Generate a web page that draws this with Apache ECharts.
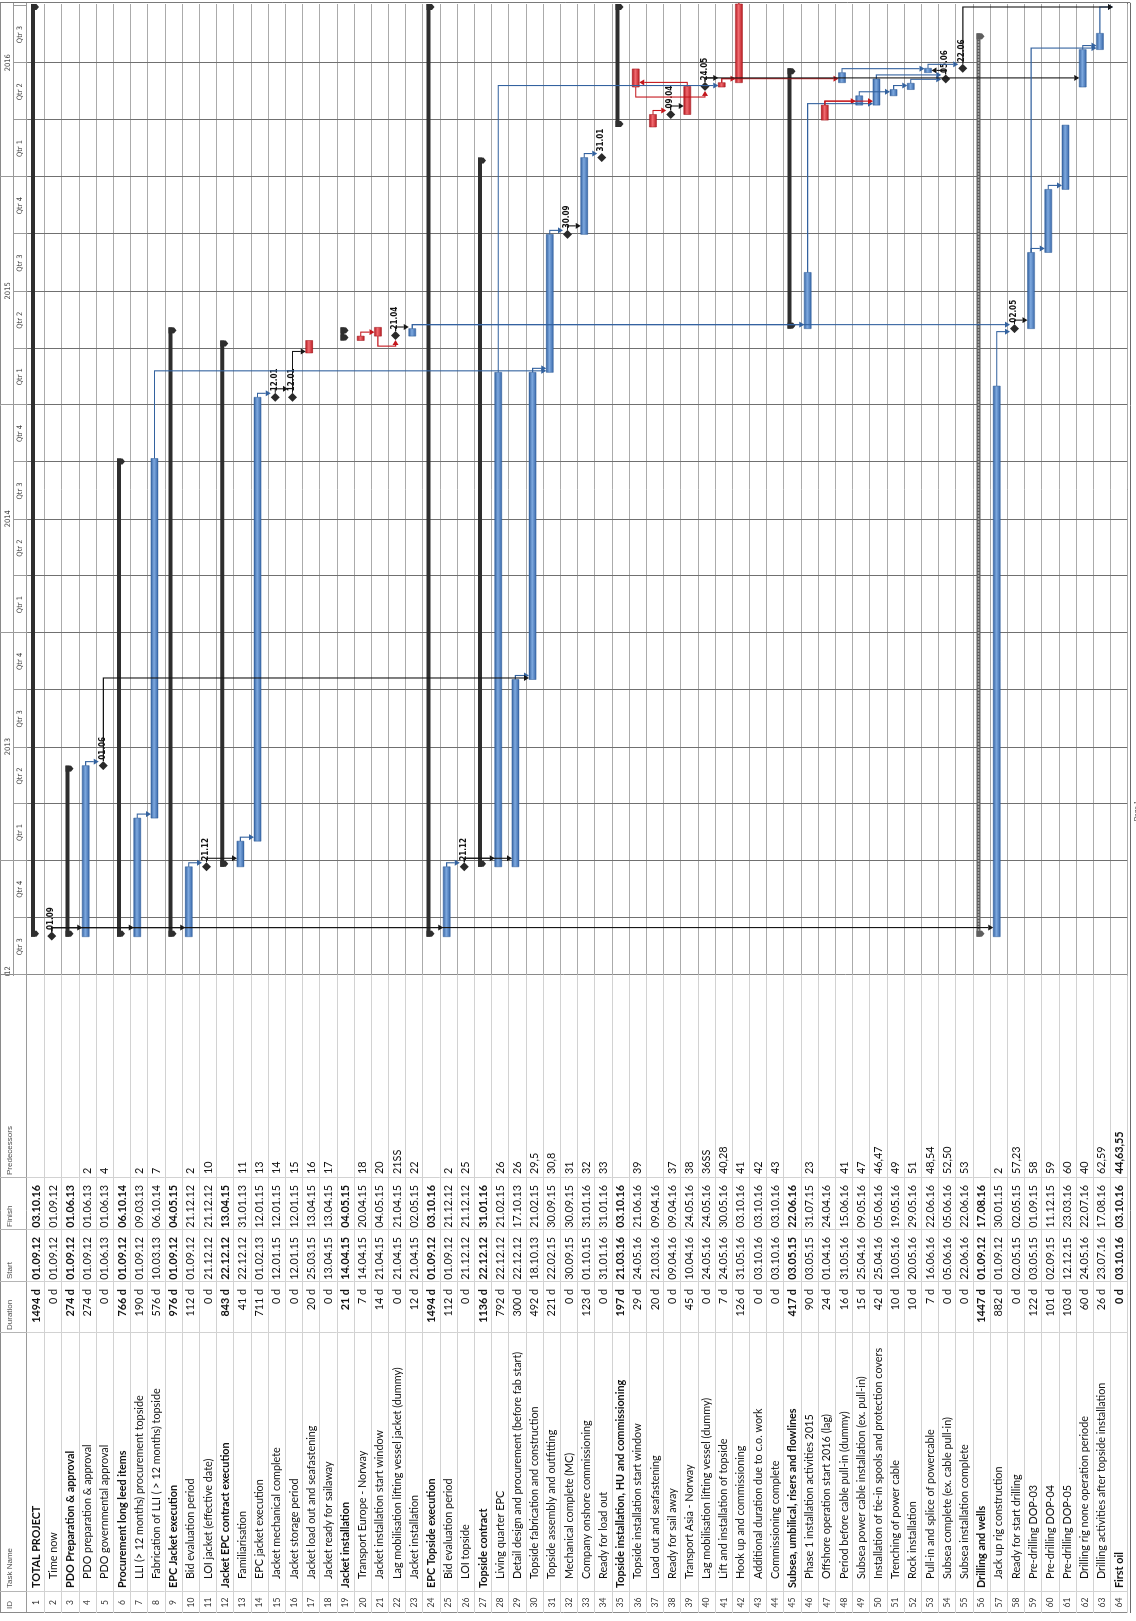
<!DOCTYPE html>
<html>
<head>
<meta charset="utf-8">
<title>Project master schedule</title>
<script src="https://cdn.jsdelivr.net/npm/echarts@6/dist/echarts.min.js"></script>
<style>
  html, body { margin: 0; padding: 0; background: #fff; width: 1136px; height: 1621px; overflow: hidden; }
  /* the schedule is laid out as a landscape page and turned a quarter turn */
  #page { position: absolute; left: 0; top: 0; width: 1621px; height: 1136px;
          transform-origin: 0 0; transform: translate(0, 1621px) rotate(-90deg); background: #fff; }
</style>
</head>
<body>
<div id="page"></div>
<script>
// ---------------- schedule data ----------------
const taskIds = [1,2,3,4,5,6,7,8,9,10,11,12,13,14,15,16,17,18,19,20,21,22,23,24,25,26,27,28,29,30,31,32,
  33,34,35,36,37,38,39,40,41,42,43,44,45,46,47,48,49,50,51,52,53,54,55,56,57,58,59,60,61,62,63,64];

const taskNames = [
  'TOTAL PROJECT', 'Time now', 'PDO Preparation & approval', 'PDO preparation & approval',
  'PDO governmental approval', 'Procurement long leed items', 'LLI (> 12 months) procurement topside',
  'Fabrication of LLI ( > 12 months) topside', 'EPC Jacket execution', 'Bid evaluation period',
  'LOI jacket (effective date)', 'Jacket EPC contract execution', 'Familiarisation', 'EPC jacket execution',
  'Jacket mechanical complete', 'Jacket storage period', 'Jacket load out and seafastening',
  'Jacket ready for sailaway', 'Jacket installation', 'Transport Europe - Norway',
  'Jacket installation start window', 'Lag mobilisation lifting vessel jacket (dummy)', 'Jacket installation',
  'EPC Topside execution', 'Bid evaluation period', 'LOI topside', 'Topside contract', 'Living quarter EPC',
  'Detail design and procurement (before fab start)', 'Topside fabrication and construction',
  'Topside assembly and outfitting', 'Mechanical complete (MC)', 'Company onshore commissioning',
  'Ready for load out', 'Topside installation, HU and commissioning', 'Topside installation start window',
  'Load out and seafastening', 'Ready for sail away', 'Transport Asia - Norway',
  'Lag mobilisation lifting vessel (dummy)', 'Lift and installation of topside', 'Hook up and commissioning',
  'Additional duration due to c.o. work', 'Commissioning complete', 'Subsea, umbilical, risers and flowlines',
  'Phase 1 installation activities 2015', 'Offshore operation start 2016 (lag)',
  'Period before cable pull-in (dummy)', 'Subsea power cable installation (ex. pull-in)',
  'Installation of tie-in spools and protection covers', 'Trenching of power cable', 'Rock installation',
  'Pull-in and splice of powercable', 'Subsea complete (ex. cable pull-in)', 'Subsea installation complete',
  'Drilling and wells', 'Jack up rig construction', 'Ready for start drilling', 'Pre-drilling DOP-03',
  'Pre-drilling DOP-04', 'Pre-drilling DOP-05', 'Drilling rig none operation periode',
  'Drilling activities after topside installation', 'First oil'
];

const durations = [
  '1494 d','0 d','274 d','274 d','0 d','766 d','190 d','576 d','976 d','112 d','0 d','843 d','41 d','711 d',
  '0 d','0 d','20 d','0 d','21 d','7 d','14 d','0 d','12 d','1494 d','112 d','0 d','1136 d','792 d','300 d',
  '492 d','221 d','0 d','123 d','0 d','197 d','29 d','20 d','0 d','45 d','0 d','7 d','126 d','0 d','0 d',
  '417 d','90 d','24 d','16 d','15 d','42 d','10 d','10 d','7 d','0 d','0 d','1447 d','882 d','0 d','122 d',
  '101 d','103 d','60 d','26 d','0 d'
];

const startDates = [
  '01.09.12','01.09.12','01.09.12','01.09.12','01.06.13','01.09.12','01.09.12','10.03.13','01.09.12','01.09.12',
  '21.12.12','22.12.12','22.12.12','01.02.13','12.01.15','12.01.15','25.03.15','13.04.15','14.04.15','14.04.15',
  '21.04.15','21.04.15','21.04.15','01.09.12','01.09.12','21.12.12','22.12.12','22.12.12','22.12.12','18.10.13',
  '22.02.15','30.09.15','01.10.15','31.01.16','21.03.16','24.05.16','21.03.16','09.04.16','10.04.16','24.05.16',
  '24.05.16','31.05.16','03.10.16','03.10.16','03.05.15','03.05.15','01.04.16','31.05.16','25.04.16','25.04.16',
  '10.05.16','20.05.16','16.06.16','05.06.16','22.06.16','01.09.12','01.09.12','02.05.15','03.05.15','02.09.15',
  '12.12.15','24.05.16','23.07.16','03.10.16'
];

const finishDates = [
  '03.10.16','01.09.12','01.06.13','01.06.13','01.06.13','06.10.14','09.03.13','06.10.14','04.05.15','21.12.12',
  '21.12.12','13.04.15','31.01.13','12.01.15','12.01.15','12.01.15','13.04.15','13.04.15','04.05.15','20.04.15',
  '04.05.15','21.04.15','02.05.15','03.10.16','21.12.12','21.12.12','31.01.16','21.02.15','17.10.13','21.02.15',
  '30.09.15','30.09.15','31.01.16','31.01.16','03.10.16','21.06.16','09.04.16','09.04.16','24.05.16','24.05.16',
  '30.05.16','03.10.16','03.10.16','03.10.16','22.06.16','31.07.15','24.04.16','15.06.16','09.05.16','05.06.16',
  '19.05.16','29.05.16','22.06.16','05.06.16','22.06.16','17.08.16','30.01.15','02.05.15','01.09.15','11.12.15',
  '23.03.16','22.07.16','17.08.16','03.10.16'
];

const predecessors = [
  '','','','2','4','','2','7','','2','10','','11','13','14','15','16','17','','18','20','21SS','22','','2','25',
  '','26','26','29,5','30,8','31','32','33','','39','','37','38','36SS','40,28','41','42','43','','23','','41',
  '47','46,47','49','51','48,54','52,50','53','','2','57,23','58','59','60','40','62,59','44,63,55'
];

const summaryRows  = [1, 3, 6, 9, 12, 19, 24, 27, 35, 45, 56];
const rolledRows   = [56];
const boldRows     = [1, 3, 6, 9, 12, 19, 24, 27, 35, 45, 56, 64];
const criticalRows = [17, 20, 21, 36, 37, 39, 41, 42, 47];
const hiddenMarkRows = [18];

const columnTitles = ['ID', 'Task Name', 'Duration', 'Start', 'Finish', 'Predecessors'];

const yearStarts  = ['2012-01-01','2013-01-01','2014-01-01','2015-01-01','2016-01-01','2017-01-01'];
const yearLabels  = ['2012','2013','2014','2015','2016'];
const quarterStarts = ['2012-07-01','2012-10-01','2013-01-01','2013-04-01','2013-07-01','2013-10-01',
  '2014-01-01','2014-04-01','2014-07-01','2014-10-01','2015-01-01','2015-04-01','2015-07-01','2015-10-01',
  '2016-01-01','2016-04-01','2016-07-01','2016-10-01','2017-01-01'];
const quarterLabels = ['Qtr 3','Qtr 4','Qtr 1','Qtr 2','Qtr 3','Qtr 4','Qtr 1','Qtr 2','Qtr 3','Qtr 4',
  'Qtr 1','Qtr 2','Qtr 3','Qtr 4','Qtr 1','Qtr 2','Qtr 3','Qtr 4'];

const timelineStart = '2012-07-01';
const timelineEnd   = '2016-10-04';

// ---------------- page layout ----------------
const PAGE_W = 1621, PAGE_H = 1136;
const HEAD_H = 27.1;
const ROW_H = 17.19;
const TABLE_LEFT = 8;
const GANTT_LEFT = 645.6;
const GANTT_RIGHT = 1617;
const PAGE_RIGHT = 1618;
const colEdges = [29, 288, 339, 391, 443];
const headerTitleX = [12, 33, 291, 342, 394, 446];
const ID_CENTER = 18.5, NAME_X = 33, DUR_RIGHT = 332, START_RIGHT = 384, FINISH_RIGHT = 436, PRED_X = 447;

const TABLE_FONT = 'Lato, "Open Sans", "Noto Sans", sans-serif';
const NARROW_FONT = '"Liberation Sans Narrow", "DejaVu Sans Condensed", "Liberation Sans", sans-serif';

// ---------------- helpers ----------------
const DAY = 86400000;
function dmy(s) { const p = s.split('.').map(Number); return Date.UTC(2000 + p[2], p[1] - 1, p[0]); }
function iso(s) { const p = s.split('-').map(Number); return Date.UTC(p[0], p[1] - 1, p[2]); }

const TASK = 0, CRITICAL = 1, SUMMARY = 2, MILESTONE = 3, ROLLUP = 4;
function kindOf(i) {
  const row = taskIds[i];
  if (summaryRows.includes(row)) return rolledRows.includes(row) ? ROLLUP : SUMMARY;
  if (durations[i] === '0 d') return MILESTONE;
  return criticalRows.includes(row) ? CRITICAL : TASK;
}
function spanOf(i) {
  if (kindOf(i) === MILESTONE) { const t = dmy(finishDates[i]) + DAY; return [t, t]; }
  return [dmy(startDates[i]), dmy(finishDates[i]) + DAY];
}

// bars and milestones (milestones falling on the end of the timescale are off the page)
const barData = [];
taskIds.forEach((id, i) => {
  if (hiddenMarkRows.includes(id)) return;
  const sp = spanOf(i);
  if (kindOf(i) === MILESTONE && sp[0] >= iso(timelineEnd)) return;
  barData.push({ value: [sp[0], i, sp[1], kindOf(i)], name: finishDates[i].slice(0, 5) });
});

// dependency links
const linkData = [];
predecessors.forEach((str, i) => {
  if (!str) return;
  str.split(',').forEach(tok => {
    const m = tok.trim().match(/^(\d+)(SS)?$/);
    if (!m) return;
    const p = Number(m[1]) - 1;
    if (hiddenMarkRows.includes(taskIds[p]) || hiddenMarkRows.includes(taskIds[i])) return;
    const ps = spanOf(p), ss = spanOf(i);
    linkData.push([ps[0], p, ps[1], kindOf(p), ss[0], i, ss[1], kindOf(i), m[2] ? 1 : 0]);
  });
});

// timescale cells: [start, tier, end, labelIndex]
const scaleData = [];
yearLabels.forEach((lab, k) => scaleData.push([iso(yearStarts[k]), 0, iso(yearStarts[k + 1]), k]));
quarterLabels.forEach((lab, k) => scaleData.push([iso(quarterStarts[k]), 1, iso(quarterStarts[k + 1]), k]));

const rowData = taskIds.map((id, i) => [iso(timelineStart), i]);
const tableData = taskIds.map((id, i) => [0, i]);
const quarterLineData = quarterStarts.slice(1, -2).map(q => [iso(q), 0]);

// ---------------- drawing ----------------
function crisp(v) { return Math.round(v) + 0.5; }

function markBox(t0, row, t1, kind, api, band) {
  const a = api.coord([t0, row]), b = api.coord([t1, row]);
  const top = a[1] - band / 2;
  if (kind === MILESTONE) return { l: a[0] - 4.5, r: a[0] + 4.5, top: top + 3, bot: top + 12, mid: top + 7.5 };
  return { l: a[0], r: b[0], top: top + 3.5, bot: top + 10.5, mid: top + 7 };
}

function blueFill() {
  return { type: 'linear', x: 0, y: 0, x2: 0, y2: 1, colorStops: [
    { offset: 0, color: '#315f9e' }, { offset: 0.45, color: '#7ea9df' }, { offset: 1, color: '#3766a8' } ] };
}
function redFill() {
  return { type: 'linear', x: 0, y: 0, x2: 0, y2: 1, colorStops: [
    { offset: 0, color: '#b0141b' }, { offset: 0.45, color: '#f06a6f' }, { offset: 1, color: '#b81b22' } ] };
}

function renderBar(params, api) {
  const s = api.value(0), row = api.value(1), e = api.value(2), kind = api.value(3);
  const band = api.size([0, 1])[1];
  const p1 = api.coord([s, row]), p2 = api.coord([e, row]);
  const top = p1[1] - band / 2;
  const x1 = p1[0], x2 = p2[0];
  if (kind === MILESTONE) {
    const cy = top + 7.5, h = 4.5;
    return { type: 'group', children: [
      { type: 'polygon', shape: { points: [[x1, cy - h], [x1 + h, cy], [x1, cy + h], [x1 - h, cy]] },
        style: { fill: '#2a2a2a' } },
      { type: 'text', style: { text: barData[params.dataIndex].name, x: x1 + 6, y: cy - 0.5,
        align: 'left', verticalAlign: 'middle', font: 'bold 8px ' + NARROW_FONT, fill: '#111' } }
    ] };
  }
  if (kind === SUMMARY || kind === ROLLUP) {
    const y = top + 4, h = 4, cap = 6;
    const col = kind === ROLLUP ? '#5e5e5e' : '#2e2e2e';
    const kids = [
      { type: 'rect', shape: { x: x1, y: y, width: Math.max(x2 - x1, 1), height: h }, style: { fill: col } },
      { type: 'polygon', shape: { points: [[x1, y], [x1 + cap, y], [x1 + cap, y + h + 1.5], [x1 + cap / 2, y + h + 4], [x1, y + h + 1.5]] },
        style: { fill: col } },
      { type: 'polygon', shape: { points: [[x2 - cap, y], [x2, y], [x2, y + h + 1.5], [x2 - cap / 2, y + h + 4], [x2 - cap, y + h + 1.5]] },
        style: { fill: col } }
    ];
    if (kind === ROLLUP) {
      kids.push({ type: 'line', shape: { x1: x1 + cap, y1: y + h / 2, x2: x2 - cap, y2: y + h / 2 },
        style: { stroke: '#bdbdbd', lineWidth: 1.4, lineDash: [1.5, 1.5] } });
    }
    return { type: 'group', children: kids };
  }
  return { type: 'rect', shape: { x: x1, y: top + 3.5, width: Math.max(x2 - x1, 1.5), height: 7 },
    style: { fill: kind === CRITICAL ? redFill() : blueFill(), stroke: kind === CRITICAL ? '#9e1016' : '#2c5a97', lineWidth: 0.5 } };
}

function linkColor(kind) {
  if (kind === CRITICAL) return '#c4161c';
  if (kind === MILESTONE) return '#161616';
  return '#33629f';
}

function renderLink(params, api) {
  const band = api.size([0, 1])[1];
  const P = markBox(api.value(0), api.value(1), api.value(2), api.value(3), api, band);
  const S = markBox(api.value(4), api.value(5), api.value(6), api.value(7), api, band);
  const color = linkColor(api.value(3));
  let pts, arrow;
  if (api.value(8) === 1) {
    const xl = P.l - 10;
    pts = [[P.l, P.mid], [xl, P.mid], [xl, S.mid], [S.l - 5, S.mid]];
    arrow = [[S.l - 5, S.mid - 3], [S.l, S.mid], [S.l - 5, S.mid + 3]];
  } else {
    const xv = Math.max(P.r + 4, S.l + 1.5);
    if (S.mid > P.mid) {
      pts = [[P.r, P.mid], [xv, P.mid], [xv, S.top - 5]];
      arrow = [[xv - 3, S.top - 5], [xv, S.top], [xv + 3, S.top - 5]];
    } else {
      pts = [[P.r, P.mid], [xv, P.mid], [xv, S.bot + 5]];
      arrow = [[xv - 3, S.bot + 5], [xv, S.bot], [xv + 3, S.bot + 5]];
    }
  }
  return { type: 'group', children: [
    { type: 'polyline', shape: { points: pts }, style: { stroke: color, lineWidth: 1.1, fill: null } },
    { type: 'polygon', shape: { points: arrow }, style: { fill: color } }
  ] };
}

function renderRowLine(params, api) {
  const i = api.value(1);
  const band = api.size([0, 1])[1];
  const cs = params.coordSys;
  const y = crisp(api.coord([api.value(0), i])[1] + band / 2);
  return { type: 'line', shape: { x1: cs.x, y1: y, x2: cs.x + cs.width, y2: y },
    style: { stroke: '#ababab', lineWidth: 1 } };
}

function renderQuarterLine(params, api) {
  const cs = params.coordSys;
  const x = crisp(api.coord([api.value(0), 0])[0]);
  return { type: 'line', shape: { x1: x, y1: cs.y, x2: x, y2: cs.y + cs.height },
    style: { stroke: '#707070', lineWidth: 1 } };
}

function renderScale(params, api) {
  const s = api.value(0), tier = api.value(1), e = api.value(2), k = api.value(3);
  const cs = params.coordSys;
  const x1 = api.coord([s, tier])[0], x2 = api.coord([e, tier])[0];
  const th = cs.height / 2;
  const y1 = cs.y + tier * th, y2 = y1 + th;
  const label = tier === 0 ? yearLabels[k] : quarterLabels[k];
  return { type: 'group', children: [
    { type: 'line', shape: { x1: crisp(x1), y1: y1, x2: crisp(x1), y2: y2 }, style: { stroke: '#9a9a9a', lineWidth: 1 } },
    { type: 'line', shape: { x1: x1, y1: crisp(y2) - 1, x2: x2, y2: crisp(y2) - 1 }, style: { stroke: '#9a9a9a', lineWidth: 1 } },
    { type: 'text', style: { text: label, x: (x1 + x2) / 2, y: (y1 + y2) / 2 + (tier === 0 ? 1.5 : 0),
      align: 'center', verticalAlign: 'middle', font: '7.5px ' + NARROW_FONT, fill: '#404040' } }
  ] };
}

function renderTableRow(params, api) {
  const i = api.value(1);
  const band = api.size([0, 1])[1];
  const cy = api.coord([0, i])[1];
  const top = cy - band / 2, bot = cy + band / 2;
  const row = taskIds[i];
  const bold = boldRows.includes(row);
  const font = (bold ? 'bold ' : '') + '10.8px ' + TABLE_FONT;
  const ty = cy + 0.5;
  const kids = [];
  kids.push({ type: 'line', shape: { x1: TABLE_LEFT, y1: crisp(bot), x2: GANTT_LEFT, y2: crisp(bot) },
    style: { stroke: '#d2d2d2', lineWidth: 1 } });
  colEdges.forEach(x => kids.push({ type: 'line', shape: { x1: x + 0.5, y1: top, x2: x + 0.5, y2: bot },
    style: { stroke: '#d2d2d2', lineWidth: 1 } }));
  const cell = (text, x, align, f, fill) => kids.push({ type: 'text',
    style: { text: text, x: x, y: ty, align: align, verticalAlign: 'middle', font: f, fill: fill || '#111' } });
  cell(String(row), ID_CENTER, 'center', '8.5px ' + TABLE_FONT, '#333');
  cell(taskNames[i], NAME_X + (row === 1 || bold ? 0 : 9), 'left', font);
  cell(durations[i], DUR_RIGHT, 'right', font);
  cell(startDates[i], START_RIGHT, 'right', font);
  cell(finishDates[i], FINISH_RIGHT, 'right', font);
  cell(predecessors[i], PRED_X, 'left', font);
  return { type: 'group', children: kids };
}

// ---------------- chart ----------------
const chart = echarts.init(document.getElementById('page'), null, { renderer: 'canvas', width: PAGE_W, height: PAGE_H });

const gridH = ROW_H * taskIds.length;
const frame = [
  { type: 'line', shape: { x1: TABLE_LEFT, y1: 0.5, x2: PAGE_RIGHT, y2: 0.5 }, style: { stroke: '#8a8a8a', lineWidth: 1 } },
  { type: 'line', shape: { x1: TABLE_LEFT, y1: crisp(HEAD_H) - 1, x2: PAGE_RIGHT, y2: crisp(HEAD_H) - 1 }, style: { stroke: '#9a9a9a', lineWidth: 1 } },
  { type: 'line', shape: { x1: TABLE_LEFT + 0.5, y1: 0, x2: TABLE_LEFT + 0.5, y2: HEAD_H + gridH }, style: { stroke: '#8a8a8a', lineWidth: 1 } },
  { type: 'line', shape: { x1: PAGE_RIGHT + 0.5, y1: 0, x2: PAGE_RIGHT + 0.5, y2: HEAD_H + gridH + 3 }, style: { stroke: '#7a7a7a', lineWidth: 1 } },
  { type: 'line', shape: { x1: crisp(GANTT_LEFT), y1: 0, x2: crisp(GANTT_LEFT), y2: HEAD_H + gridH }, style: { stroke: '#8a8a8a', lineWidth: 1 } },
  { type: 'line', shape: { x1: TABLE_LEFT, y1: crisp(HEAD_H + gridH), x2: PAGE_RIGHT, y2: crisp(HEAD_H + gridH) }, style: { stroke: '#6a6a6a', lineWidth: 1 } },
  { type: 'line', shape: { x1: TABLE_LEFT, y1: crisp(HEAD_H + gridH) + 3, x2: PAGE_RIGHT, y2: crisp(HEAD_H + gridH) + 3 }, style: { stroke: '#6a6a6a', lineWidth: 1 } },
  { type: 'text', style: { text: 'Page 1', x: 810, y: HEAD_H + gridH + 6, align: 'center', verticalAlign: 'top',
      font: '6.5px "Liberation Sans", sans-serif', fill: '#444' } }
];
colEdges.forEach(x => frame.push({ type: 'line', shape: { x1: x + 0.5, y1: 0, x2: x + 0.5, y2: HEAD_H },
  style: { stroke: '#b5b5b5', lineWidth: 1 } }));
columnTitles.forEach((t, k) => frame.push({ type: 'text', style: { text: t, x: headerTitleX[k], y: 9.5,
  align: 'left', verticalAlign: 'middle', font: '8px "Liberation Sans", sans-serif', fill: '#505050' } }));

chart.setOption({
  animation: false,
  backgroundColor: '#ffffff',
  grid: [
    { left: GANTT_LEFT, top: HEAD_H, width: GANTT_RIGHT - GANTT_LEFT, height: gridH },
    { left: 0, top: HEAD_H, width: GANTT_LEFT, height: gridH },
    { left: GANTT_LEFT, top: 0, width: GANTT_RIGHT - GANTT_LEFT, height: HEAD_H }
  ],
  xAxis: [
    { gridIndex: 0, type: 'time', min: iso(timelineStart), max: iso(timelineEnd), show: false },
    { gridIndex: 1, type: 'value', min: 0, max: GANTT_LEFT, show: false },
    { gridIndex: 2, type: 'time', min: iso(timelineStart), max: iso(timelineEnd), show: false }
  ],
  yAxis: [
    { gridIndex: 0, type: 'category', data: taskIds.map(String), inverse: true, show: false },
    { gridIndex: 1, type: 'category', data: taskIds.map(String), inverse: true, show: false },
    { gridIndex: 2, type: 'value', min: 0, max: 2, inverse: true, show: false }
  ],
  graphic: { elements: frame },
  series: [
    { type: 'custom', name: 'rows', xAxisIndex: 0, yAxisIndex: 0, data: rowData, renderItem: renderRowLine, silent: true, z: 1 },
    { type: 'custom', name: 'quarters', xAxisIndex: 0, yAxisIndex: 0, data: quarterLineData, renderItem: renderQuarterLine, silent: true, z: 1 },
    { type: 'custom', name: 'bars', xAxisIndex: 0, yAxisIndex: 0, data: barData, renderItem: renderBar, clip: true, silent: true, z: 3 },
    { type: 'custom', name: 'links', xAxisIndex: 0, yAxisIndex: 0, data: linkData, renderItem: renderLink, clip: true, silent: true, z: 4 },
    { type: 'custom', name: 'table', xAxisIndex: 1, yAxisIndex: 1, data: tableData, renderItem: renderTableRow, silent: true, z: 2 },
    { type: 'custom', name: 'timescale', xAxisIndex: 2, yAxisIndex: 2, data: scaleData, renderItem: renderScale, clip: true, silent: true, z: 2 }
  ]
});
</script>
</body>
</html>
